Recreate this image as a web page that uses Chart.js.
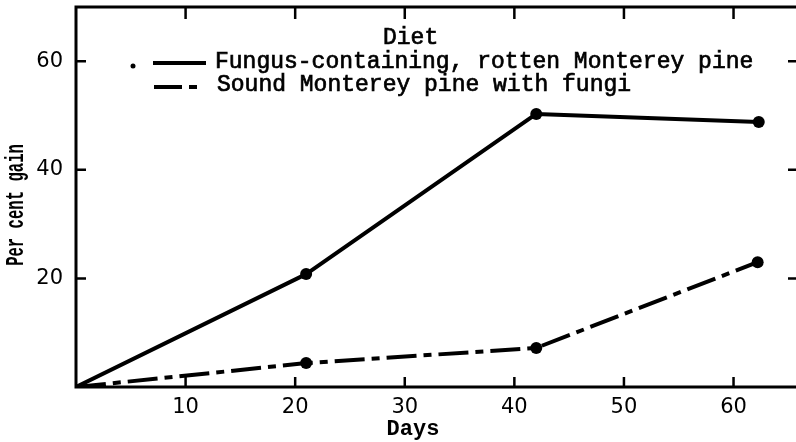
<!DOCTYPE html>
<html><head><meta charset="utf-8">
<script src="https://cdn.jsdelivr.net/npm/chart.js@4.4.0/dist/chart.umd.min.js"></script>
<style>html,body{margin:0;padding:0;background:#fff;overflow:hidden}#wrap{width:796px;height:442px;position:relative}</style>
</head><body><div id="wrap"><canvas id="c" width="796" height="442"></canvas></div>
<script>
const daysRotten = [0, 21, 42, 62.3];
const gainRotten = [0, 20.8, 50.3, 48.8];
const daysSound = [0, 21, 42, 62.2];
const gainSound = [0, 4.4, 7.2, 23.0];
const xTicks = [10, 20, 30, 40, 50, 60];
const yTicks = [20, 40, 60];
const legendTitle = 'Diet';
const seriesNames = ['Fungus-containing, rotten Monterey pine', 'Sound Monterey pine with fungi'];
const xTitle = 'Days';
const yTitle = 'Per cent gain';

const toPts = (xs, ys) => xs.map((v, i) => ({x: v, y: ys[i]}));

const frame = {
  id: 'frame',
  afterDraw(chart) {
    const {ctx, chartArea: a, scales: {x, y}} = chart;
    ctx.save();
    ctx.strokeStyle = '#000'; ctx.fillStyle = '#000';
    ctx.lineWidth = 3; ctx.lineCap = 'butt';
    ctx.beginPath();
    ctx.moveTo(a.left, a.top - 1.5); ctx.lineTo(a.left, a.bottom + 1.5);
    ctx.moveTo(a.left, a.bottom); ctx.lineTo(a.right, a.bottom);
    ctx.moveTo(a.left, a.top); ctx.lineTo(a.right, a.top);
    ctx.stroke();
    ctx.lineWidth = 2.5;
    ctx.beginPath();
    xTicks.forEach(v => {
      const px = x.getPixelForValue(v);
      ctx.moveTo(px, a.bottom); ctx.lineTo(px, a.bottom - 10);
      ctx.moveTo(px, a.top); ctx.lineTo(px, a.top + 12);
    });
    yTicks.forEach(v => {
      const py = y.getPixelForValue(v);
      ctx.moveTo(a.left, py); ctx.lineTo(a.left + 10, py);
      ctx.moveTo(a.right, py); ctx.lineTo(a.right - 8, py);
    });
    ctx.stroke();

    // legend
    ctx.font = '23px "Liberation Mono"';
    ctx.textBaseline = 'alphabetic'; ctx.textAlign = 'left';
    ctx.lineWidth = 0.7;
    [[legendTitle, 383, 44], [seriesNames[0], 215, 68], [seriesNames[1], 217, 91]].forEach(([t, tx, ty]) => {
      ctx.fillText(t, tx, ty); ctx.strokeText(t, tx, ty);
    });
    ctx.beginPath(); ctx.arc(133, 66, 2.5, 0, Math.PI * 2); ctx.fill();
    ctx.lineWidth = 4;
    ctx.beginPath();
    ctx.moveTo(153, 63); ctx.lineTo(206, 63);
    ctx.moveTo(154, 87); ctx.lineTo(182, 87);
    ctx.moveTo(189, 87); ctx.lineTo(197, 87);
    ctx.stroke();

    // axis titles
    ctx.font = 'bold 22px "Liberation Mono"';
    ctx.textAlign = 'center';
    ctx.fillText(xTitle, 413, 435);
    ctx.save();
    ctx.translate(23, 205);
    ctx.rotate(-Math.PI / 2);
    ctx.scale(0.6, 1);
    ctx.font = 'bold 26px "Liberation Mono"';
    ctx.fillText(yTitle, 0, 0);
    ctx.restore();
    ctx.restore();
  }
};

Chart.defaults.color = '#000';
new Chart(document.getElementById('c'), {
  type: 'line',
  data: {
    datasets: [
      {
        label: seriesNames[0],
        data: toPts(daysRotten, gainRotten),
        borderColor: '#000', borderWidth: 4, borderCapStyle: 'butt', borderJoinStyle: 'round',
        pointRadius: [0, 6, 6, 6], pointBackgroundColor: '#000', pointBorderWidth: 0,
        tension: 0, fill: false
      },
      {
        label: seriesNames[1],
        data: toPts(daysSound, gainSound),
        borderColor: '#000', borderWidth: 4, borderCapStyle: 'butt', borderJoinStyle: 'round',
        borderDash: [30, 7, 8, 7],
        pointRadius: [0, 6, 6, 6], pointBackgroundColor: '#000', pointBorderWidth: 0,
        tension: 0, fill: false
      }
    ]
  },
  options: {
    responsive: false, animation: false, events: [],
    layout: {autoPadding: false, padding: {top: 7, right: 0, left: 0, bottom: 0}},
    plugins: {legend: {display: false}, tooltip: {enabled: false}},
    scales: {
      x: {
        type: 'linear', min: 0, max: 65.7,
        grid: {display: false, drawTicks: false}, border: {display: false},
        afterBuildTicks: s => { s.ticks = xTicks.map(v => ({value: v})); },
        afterFit: s => { s.height = 55; s.paddingLeft = 0; s.paddingRight = 0; },
        ticks: {font: {family: 'DejaVu Sans', size: 21}, padding: 8, maxRotation: 0}
      },
      y: {
        type: 'linear', min: 0, max: 70,
        grid: {display: false, drawTicks: false}, border: {display: false},
        afterBuildTicks: s => { s.ticks = yTicks.map(v => ({value: v})); },
        afterFit: s => { s.width = 76; s.paddingTop = 0; s.paddingBottom = 0; },
        ticks: {font: {family: 'DejaVu Sans', size: 21}, padding: 13}
      }
    }
  },
  plugins: [frame]
});
</script>
</body></html>
